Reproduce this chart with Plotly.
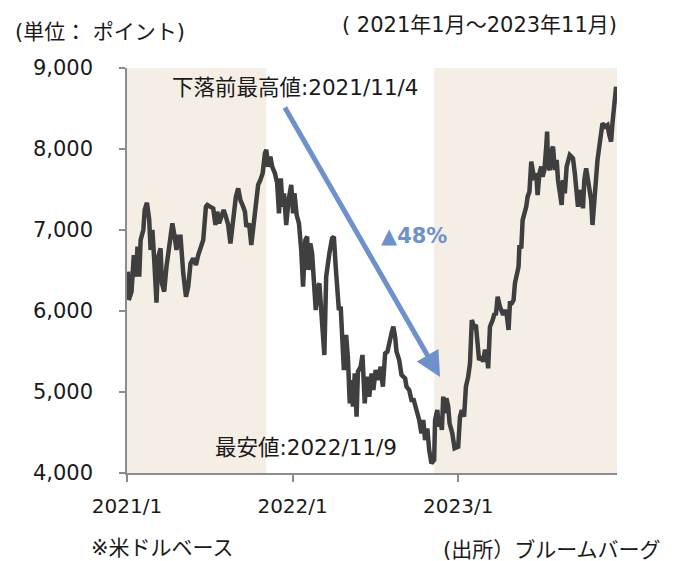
import plotly.graph_objects as go

# ---- data ----
dates = [
    "2021-01-03","2021-01-05","2021-01-11","2021-01-16","2021-01-21","2021-01-24","2021-01-28","2021-01-31",
    "2021-02-06","2021-02-09","2021-02-14","2021-02-19","2021-02-22","2021-02-26","2021-03-02","2021-03-07",
    "2021-03-11","2021-03-16","2021-03-19","2021-03-24","2021-03-29","2021-04-05","2021-04-11","2021-04-16",
    "2021-04-20","2021-04-24","2021-04-29","2021-05-05","2021-05-11","2021-05-16","2021-05-21","2021-05-27",
    "2021-06-02","2021-06-07","2021-06-12","2021-06-18","2021-06-24","2021-06-27","2021-07-03","2021-07-10",
    "2021-07-15","2021-07-19","2021-07-23","2021-07-28","2021-08-02","2021-08-07","2021-08-12","2021-08-17",
    "2021-08-23","2021-08-29","2021-09-03","2021-09-08","2021-09-14","2021-09-18","2021-09-21","2021-09-27",
    "2021-10-02","2021-10-08","2021-10-13","2021-10-17","2021-10-22","2021-10-27","2021-11-01","2021-11-04",
    "2021-11-08","2021-11-13","2021-11-17","2021-11-23","2021-11-28","2021-12-02","2021-12-06","2021-12-10",
    "2021-12-13","2021-12-18","2021-12-23","2021-12-29","2022-01-02","2022-01-05","2022-01-10","2022-01-15",
    "2022-01-20","2022-01-24","2022-01-29","2022-02-02","2022-02-05","2022-02-09","2022-02-13","2022-02-16",
    "2022-02-21","2022-02-26","2022-03-01","2022-03-06","2022-03-12","2022-03-16","2022-03-19","2022-03-23",
    "2022-03-29","2022-04-02","2022-04-06","2022-04-10","2022-04-13","2022-04-17","2022-04-21","2022-04-24",
    "2022-04-29","2022-05-03","2022-05-07","2022-05-10","2022-05-14","2022-05-18","2022-05-22","2022-05-25",
    "2022-05-31","2022-06-04","2022-06-09","2022-06-13","2022-06-19","2022-06-24","2022-06-28","2022-07-03",
    "2022-07-09","2022-07-14","2022-07-19","2022-07-24","2022-07-29","2022-08-02","2022-08-07","2022-08-11",
    "2022-08-15","2022-08-18","2022-08-24","2022-08-29","2022-09-06","2022-09-09","2022-09-15","2022-09-20",
    "2022-09-25","2022-10-01","2022-10-07","2022-10-12","2022-10-16","2022-10-20","2022-10-25","2022-10-29",
    "2022-11-03","2022-11-09","2022-11-11","2022-11-16","2022-11-19","2022-11-22","2022-11-26","2022-11-29",
    "2022-12-03","2022-12-06","2022-12-10","2022-12-13","2022-12-19","2022-12-24","2023-01-01","2023-01-05",
    "2023-01-09","2023-01-14","2023-01-18","2023-01-23","2023-01-27","2023-01-31","2023-02-05","2023-02-09",
    "2023-02-13","2023-02-16","2023-02-21","2023-02-25","2023-03-01","2023-03-05","2023-03-08","2023-03-12",
    "2023-03-18","2023-03-22","2023-03-25","2023-03-29","2023-04-03","2023-04-06","2023-04-10","2023-04-14",
    "2023-04-18","2023-04-22","2023-04-25","2023-04-29","2023-05-03","2023-05-06","2023-05-10","2023-05-14",
    "2023-05-16","2023-05-20","2023-05-23","2023-05-27","2023-05-31","2023-06-03","2023-06-07","2023-06-11",
    "2023-06-14","2023-06-18","2023-06-22","2023-06-25","2023-06-29","2023-07-03","2023-07-06","2023-07-10",
    "2023-07-14","2023-07-16","2023-07-18","2023-07-22","2023-07-26","2023-07-29","2023-08-02","2023-08-06",
    "2023-08-09","2023-08-13","2023-08-17","2023-08-20","2023-08-24","2023-08-28","2023-08-31","2023-09-04",
    "2023-09-08","2023-09-11","2023-09-15","2023-09-18","2023-09-22","2023-09-25","2023-09-29","2023-10-03",
    "2023-10-06","2023-10-10","2023-10-14","2023-10-17","2023-10-21","2023-10-24","2023-10-28","2023-10-31",
    "2023-11-04","2023-11-07","2023-11-12","2023-11-15","2023-11-21","2023-11-26","2023-11-30","2023-12-04",
    "2023-12-07","2023-12-11","2023-12-15",
]
values = [
    6486,6136,6239,6691,6424,6794,6424,6876,
    7000,7247,7337,7123,6753,7000,6630,6103,
    6671,6774,6342,6239,6547,6876,7082,6918,
    6753,6918,6918,6465,6177,6300,6588,6650,
    6568,6691,6794,6876,7288,7309,7288,7267,
    7062,7226,7082,7185,7247,7165,7062,6835,
    7165,7411,7514,7370,7288,7226,7041,7082,
    6815,7123,7288,7556,7617,7700,7947,7990,
    7782,7905,7782,7700,7576,7206,7638,7288,
    7453,7062,7370,7556,7206,7453,7185,7082,
    6753,6300,6876,6918,6506,6835,6712,6465,
    6012,6300,6342,5930,5457,6424,6609,6712,
    6897,6918,6547,6218,6012,6053,5477,5271,
    5704,5416,4860,5148,4819,5230,4696,5251,
    5313,5457,4860,5189,4942,5230,5025,5272,
    5148,5313,5066,5477,5498,5622,5724,5807,
    5683,5498,5395,5210,5169,5066,5025,4901,
    4901,4778,4654,4490,4654,4407,4551,4284,
    4119,4160,4654,4778,4572,4695,4531,4942,
    4737,4922,4819,4613,4490,4305,4325,4695,
    4778,4695,5066,5189,5354,5889,5807,5827,
    5560,5395,5436,5374,5519,5477,5292,5807,
    5889,5971,5951,6177,6053,6012,5951,6012,
    5951,5766,6095,6095,6136,6342,6424,6547,
    6815,6774,7123,7185,7288,7412,7473,7844,
    7720,7617,7700,7432,7700,7782,7658,7741,
    8029,8214,7782,7741,7988,8029,7741,7864,
    7617,7494,7309,7617,7453,7782,7864,7926,
    7905,7885,7700,7453,7288,7370,7494,7268,
    7617,7761,7617,7453,7370,7062,7391,7617,
    7864,7988,8193,8317,8276,8296,8173,8091,
    8317,8564,8770,
]
peak_date = "2021-11-04"
low_date = "2022-11-09"
x_start = "2021-01-01"
x_end = "2023-12-17"
x_tick_vals = ["2021-01-01", "2022-01-01", "2023-01-01"]
x_tick_text = ["2021/1", "2022/1", "2023/1"]
y_tick_vals = [4000, 5000, 6000, 7000, 8000, 9000]
y_tick_text = ["4,000", "5,000", "6,000", "7,000", "8,000", "9,000"]
drop_text = "▲48%"
peak_text = "下落前最高値:2021/11/4"
low_text = "最安値:2022/11/9"

FONT = "DejaVu Sans, Noto Sans CJK JP, sans-serif"
TXT = "#1a1a1a"
BLUE = "#6E91CC"
SHADE = "#F4EEE5"
AXC = "#8C8C8C"

fig = go.Figure()
fig.add_trace(go.Scatter(
    x=dates, y=values, mode="lines",
    line=dict(color="#3F3F3F", width=4.5),
    hoverinfo="skip", showlegend=False,
))

# shaded periods
fig.add_shape(type="rect", xref="x", yref="y", x0=x_start, x1=peak_date,
              y0=4000, y1=9000, fillcolor=SHADE, line=dict(width=0), layer="below")
fig.add_shape(type="rect", xref="x", yref="y", x0=low_date, x1=x_end,
              y0=4000, y1=9000, fillcolor=SHADE, line=dict(width=0), layer="below")

# arrow
fig.add_annotation(x="2022-11-22", y=5185, ax="2021-12-13", ay=8531,
                   xref="x", yref="y", axref="x", ayref="y", text="",
                   showarrow=True, arrowhead=2, arrowsize=1.0, arrowwidth=5,
                   arrowcolor=BLUE)

fig.add_annotation(x="2022-01-06", y=8765, xref="x", yref="y", text=peak_text,
                   xanchor="center", yanchor="middle", showarrow=False,
                   font=dict(family=FONT, size=21.5, color=TXT))
fig.add_annotation(x="2022-01-30", y=4309, xref="x", yref="y", text=low_text,
                   xanchor="center", yanchor="middle", showarrow=False,
                   font=dict(family=FONT, size=21.5, color=TXT))
fig.add_annotation(x="2022-09-26", y=6926, xref="x", yref="y", text="<b>" + drop_text + "</b>",
                   xanchor="center", yanchor="middle", showarrow=False,
                   font=dict(family=FONT, size=21, color=BLUE))

# outer texts
fig.add_annotation(x=-0.2327, y=1.0889, xref="paper", yref="paper",
                   xanchor="left", yanchor="middle",
                   text="(単位： ポイント)", showarrow=False,
                   font=dict(family=FONT, size=21, color=TXT))
fig.add_annotation(x=0.4347, y=1.1062, xref="paper", yref="paper",
                   xanchor="left", yanchor="middle",
                   text="( 2021年1月～2023年11月)", showarrow=False,
                   font=dict(family=FONT, size=21, color=TXT))
fig.add_annotation(x=-0.0776, y=-0.1852, xref="paper", yref="paper",
                   xanchor="left", yanchor="middle",
                   text="※米ドルベース", showarrow=False,
                   font=dict(family=FONT, size=21, color=TXT))
fig.add_annotation(x=1.0939, y=-0.1901, xref="paper", yref="paper",
                   xanchor="right", yanchor="middle",
                   text="(出所）ブルームバーグ", showarrow=False,
                   font=dict(family=FONT, size=21, color=TXT))

# page body has an 8px margin, so the figure is 8px smaller than the window
fig.update_layout(
    width=667, height=553,
    margin=dict(l=119, r=58, t=60, b=88),
    paper_bgcolor="white", plot_bgcolor="white",
    font=dict(family=FONT, size=20, color=TXT),
    showlegend=False,
)
fig.update_xaxes(
    type="date", range=[x_start, x_end],
    tickvals=x_tick_vals, ticktext=x_tick_text,
    showgrid=False, zeroline=False,
    showline=True, linecolor=AXC, linewidth=1.5,
    ticks="outside", ticklen=7, tickcolor=AXC, tickwidth=1.5,
    ticklabelstandoff=7,
    tickfont=dict(family=FONT, size=20, color=TXT),
)
fig.update_yaxes(
    range=[4000, 9000],
    tickvals=y_tick_vals, ticktext=y_tick_text,
    showgrid=False, zeroline=False,
    showline=True, linecolor=AXC, linewidth=1.5,
    ticks="outside", ticklen=6, tickcolor=AXC, tickwidth=1.5,
    ticklabelstandoff=22,
    tickfont=dict(family=FONT, size=21, color=TXT),
)

fig.write_html("out.html")
